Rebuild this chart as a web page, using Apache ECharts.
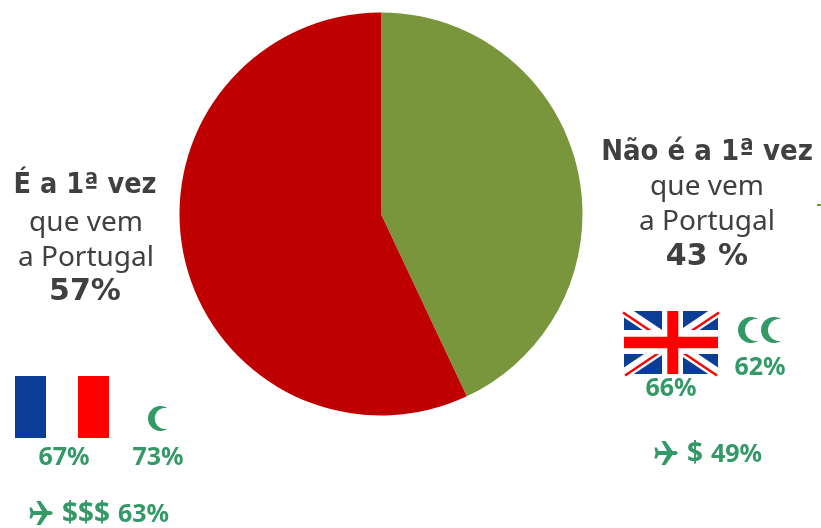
<!DOCTYPE html>
<html><head><meta charset="utf-8">
<style>html,body{margin:0;padding:0;background:#fff}#c{width:821px;height:528px}</style>
<script src="https://cdn.jsdelivr.net/npm/echarts@6/dist/echarts.min.js"></script>
</head><body><div id="c"></div>
<script>
const categories = ['Não é a 1ª vez que vem a Portugal', 'É a 1ª vez que vem a Portugal'];
const values = [43, 57];
const sliceColors = ['#7A963C', '#BE0000'];
const FONT = '"Noto Sans","DejaVu Sans",sans-serif';
const COND = '"DejaVu Sans Condensed","DejaVu Sans",sans-serif';
const WIDE = '"DejaVu Sans",sans-serif';
const DARK = '#404040', GREEN = '#339966';

const txt = (x, y, s, size, bold, fill, align, family) => ({
  type: 'text', x, y,
  style: { text: s, fontFamily: family || FONT, fontSize: size, fontWeight: bold ? 'bold' : 'normal',
           fill: fill || DARK, align: align || 'center', verticalAlign: 'middle' }
});
const rect = (x, y, w, h, fill) => ({ type: 'rect', shape: { x, y, width: w, height: h }, style: { fill } });
const poly = (pts, fill) => ({ type: 'polygon', shape: { points: pts }, style: { fill } });
// Crescent: a large circle with a smaller, right-shifted circle cut out of it.
const crescent = (x, y, h) => {
  const s = h / 26, R = 13 * s, r = 11 * s, d = 5 * s, cy = y + h / 2, cx = x + R;
  const ix = (d * d + R * R - r * r) / (2 * d), iy = Math.sqrt(R * R - ix * ix);
  const a0 = Math.atan2(iy, ix), b0 = Math.atan2(iy, ix - d), pts = [], steps = 32;
  for (let i = 0; i <= steps; i++) {
    const a = a0 + (2 * Math.PI - 2 * a0) * i / steps;
    pts.push([cx + R * Math.cos(a), cy + R * Math.sin(a)]);
  }
  for (let i = steps; i >= 0; i--) {
    const b = b0 + (2 * Math.PI - 2 * b0) * i / steps;
    pts.push([cx + d + r * Math.cos(b), cy + r * Math.sin(b)]);
  }
  return poly(pts, GREEN);
};
const plane = (x, y, s) => {
  const u = [[1, 10], [13, 10], [7.5, 0], [11.5, 0], [18.5, 10], [22, 10], [24, 12], [22, 14], [18.5, 14],
             [11.5, 24], [7.5, 24], [13, 14], [4.5, 14], [2.8, 17.5], [0.4, 17.5], [1.6, 12], [0.4, 6.5], [2.8, 6.5], [4.5, 10]];
  return poly(u.map(p => [x + p[0] * s, y + p[1] * s]), GREEN);
};

function ukFlag(x, y, w, h) {
  const X = x + w, Y = y + h;
  const els = [rect(x, y, w, h, '#0B3D96')];
  const d = (a, b, c, e, t, off) => {
    const dx = c - a, dy = e - b, L = Math.hypot(dx, dy), ox = -dy / L * t, oy = dx / L * t;
    const sx = -dy / L * off, sy = dx / L * off;
    return [[a + ox + sx, b + oy + sy], [c + ox + sx, e + oy + sy], [c - ox + sx, e - oy + sy], [a - ox + sx, b - oy + sy]];
  };
  els.push(poly(d(x, y, X, Y, 5.5, 0), '#FFFFFF'), poly(d(x, Y, X, y, 5.5, 0), '#FFFFFF'));
  els.push(poly(d(x, y, X, Y, 1.2, 1.8), '#FF0000'), poly(d(x, Y, X, y, 1.2, 1.8), '#FF0000'));
  els.push(rect(x + 38, y, 21, h, '#FFFFFF'), rect(x, y + 19, w, 24, '#FFFFFF'));
  els.push(rect(x + 43.3, y, 11, h, '#FF0000'), rect(x, y + 25.7, w, 11.6, '#FF0000'));
  return els;
}

const chart = echarts.init(document.getElementById('c'), null, { renderer: 'canvas' });
chart.setOption({
  animation: false,
  backgroundColor: '#ffffff',
  series: [{
    type: 'pie',
    center: [381, 214],
    radius: [0, 201.5],
    startAngle: 90,
    clockwise: true,
    silent: true,
    label: { show: false },
    labelLine: { show: false },
    data: categories.map((name, i) => ({ name, value: values[i], itemStyle: { color: sliceColors[i] } }))
  }],
  graphic: { elements: [
    txt(707, 152, 'Não é a 1ª vez', 29, true, DARK, 'center', COND),
    txt(707, 187, 'que vem', 28, false),
    txt(707, 222, 'a Portugal', 28, false),
    txt(707, 257, '43 %', 30, true, DARK, 'center', WIDE),
    txt(85, 186, 'É a 1ª vez', 28.5, true, DARK, 'center', COND),
    txt(86, 223, 'que vem', 28, false),
    txt(86, 258, 'a Portugal', 28, false),
    txt(85, 292, '57%', 30, true, DARK, 'center', WIDE),
    rect(15, 376, 31, 62, '#0B3D96'),
    rect(78, 376, 31, 62, '#FF0000'),
    crescent(148, 406, 25),
    txt(64, 458, '67%', 25, true, GREEN),
    txt(158, 458, '73%', 25, true, GREEN),
    plane(29, 501, 1),
    txt(62, 514, '$$$', 28, true, GREEN, 'left'),
    txt(118, 515, '63%', 25, true, GREEN, 'left'),
    ...ukFlag(624, 311, 94, 63),
    crescent(738, 317, 26),
    crescent(761, 317, 26),
    txt(760, 368, '62%', 25, true, GREEN),
    txt(671, 389, '66%', 25, true, GREEN),
    plane(654, 441, 1),
    txt(687, 454, '$', 28, true, GREEN, 'left'),
    txt(711, 455, '49%', 25, true, GREEN, 'left'),
    rect(817, 204, 4, 2, '#7A963C')
  ] }
});
</script></body></html>
